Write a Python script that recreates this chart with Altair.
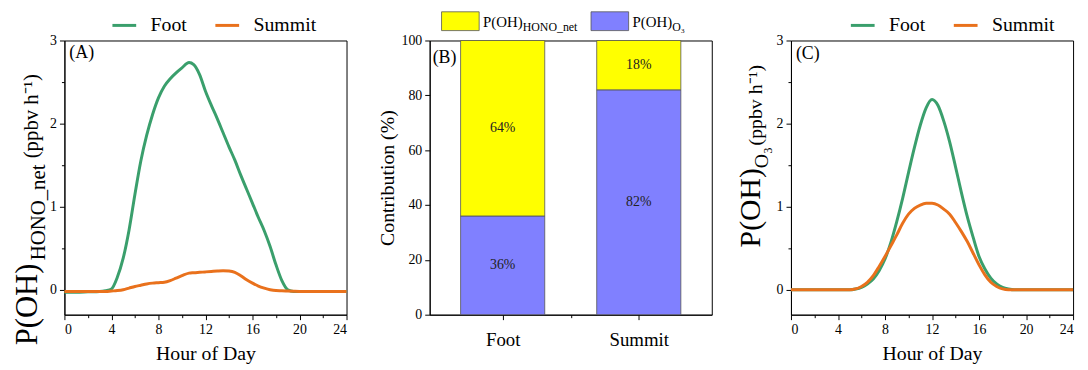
import altair as alt
import pandas as pd

FONT = "Liberation Serif"
GREEN = "#3a9f6c"
ORANGE = "#e9711c"
YELLOW = "#ffff00"
BLUE = "#8080ff"

sites = ["Foot", "Summit"]

# Panel A: P(OH)_HONO_net (ppbv h-1)
hours_A = [0, 1, 2, 3, 3.5, 4, 4.5, 5, 5.5, 6, 6.5, 7, 7.5, 8, 8.5, 9, 9.5, 10, 10.6,
           11, 11.5, 12, 12.5, 13, 13.5, 14, 14.5, 15, 15.5, 16, 16.5, 17, 17.5, 18,
           18.5, 19, 19.5, 20, 21, 22, 23, 24]
foot_A = [-0.03, -0.03, -0.025, -0.02, -0.01, 0.01, 0.15, 0.38, 0.72, 1.15, 1.55, 1.86,
          2.11, 2.31, 2.45, 2.54, 2.61, 2.67, 2.735, 2.71, 2.59, 2.39, 2.22, 2.06, 1.89,
          1.72, 1.56, 1.38, 1.21, 1.04, 0.87, 0.71, 0.52, 0.30, 0.11, 0.0, -0.02, -0.02,
          -0.02, -0.02, -0.02, -0.02]
summit_A = [-0.02, -0.02, -0.02, -0.02, -0.02, -0.015, -0.01, 0.0, 0.02, 0.04, 0.055,
            0.07, 0.08, 0.085, 0.09, 0.11, 0.14, 0.17, 0.2, 0.205, 0.21, 0.215, 0.22,
            0.225, 0.228, 0.225, 0.21, 0.17, 0.12, 0.08, 0.045, 0.02, 0.0, -0.01,
            -0.012, -0.015, -0.018, -0.02, -0.02, -0.02, -0.02, -0.02]

# Panel C: P(OH)_O3 (ppbv h-1)
hours_C = [0, 1, 2, 3, 4, 4.5, 5, 5.5, 6, 6.5, 7, 7.5, 8, 8.5, 9, 9.5, 10, 10.5, 11,
           11.5, 12, 12.5, 13, 13.5, 14, 14.5, 15, 15.5, 16, 16.5, 17, 17.5, 18, 18.5,
           19, 20, 21, 22, 23, 24]
foot_C = [0, 0, 0, 0, 0, 0, 0.0, 0.01, 0.03, 0.07, 0.13, 0.23, 0.37, 0.57, 0.82, 1.10,
          1.41, 1.71, 1.98, 2.19, 2.29, 2.22, 2.03, 1.78, 1.48, 1.17, 0.88, 0.63, 0.40,
          0.25, 0.14, 0.07, 0.03, 0.01, 0, 0, 0, 0, 0, 0]
summit_C = [0, 0, 0, 0, 0, 0, 0.0, 0.01, 0.04, 0.09, 0.17, 0.28, 0.40, 0.53, 0.66, 0.80,
            0.91, 0.98, 1.02, 1.04, 1.04, 1.02, 0.97, 0.91, 0.81, 0.70, 0.58, 0.44,
            0.30, 0.18, 0.09, 0.04, 0.01, 0.0, 0, 0, 0, 0, 0, 0]

# Panel B: contribution (%)
hono_pct = [64, 18]
ox_pct = [36, 82]
parts = ["HONO", "Ox"]

x_ticks = list(range(0, 25, 2))
y_ticks_line = [0, 0.5, 1, 1.5, 2, 2.5, 3]
y_ticks_bar = list(range(0, 101, 10))


def long_df(hours, foot, summit):
    rows = []
    for s, vals in zip(sites, [foot, summit]):
        for h, v in zip(hours, vals):
            rows.append({"hour": h, "value": v, "site": s})
    return pd.DataFrame(rows)


def one():
    return pd.DataFrame({"a": [0]})


def txt(text, x, y, size, angle=0, align="left", baseline="alphabetic"):
    return alt.Chart(one()).mark_text(
        text=text, font=FONT, fontSize=size, angle=angle, align=align,
        baseline=baseline, color="black"
    ).encode(x=alt.value(x), y=alt.value(y))


def x_hour_axis():
    return alt.X(
        "hour:Q",
        scale=alt.Scale(domain=[0, 24], nice=False),
        axis=alt.Axis(
            values=x_ticks,
            labelExpr="datum.value % 4 === 0 ? datum.label : ''",
            tickSize={"condition": {"test": "datum.value % 4 !== 0", "value": 3}, "value": 5},
            title="Hour of Day",
            titlePadding=7,
        ),
    )


def y_line_axis():
    return alt.Y(
        "value:Q",
        scale=alt.Scale(domain=[-0.3, 3], nice=False, zero=False),
        axis=alt.Axis(
            values=y_ticks_line,
            labelExpr="datum.value % 1 === 0 ? format(datum.value, 'd') : ''",
            tickSize={"condition": {"test": "datum.value % 1 !== 0", "value": 3}, "value": 5},
            title=None,
        ),
    )


def line_panel(df, legend_x):
    color = alt.Color(
        "site:N",
        scale=alt.Scale(domain=sites, range=[GREEN, ORANGE]),
        sort=sites,
        legend=alt.Legend(
            title=None, orient="none", legendX=legend_x, legendY=-29,
            direction="horizontal", symbolType="stroke", symbolStrokeWidth=3,
            symbolSize=576, labelFont=FONT, labelFontSize=20, labelOffset=13,
            columnPadding=22, padding=0, labelColor="black",
        ),
    )
    return alt.Chart(df).mark_line(strokeWidth=3, interpolate="monotone").encode(
        x=x_hour_axis(), y=y_line_axis(), color=color, order="site:N"
    )


W, H = 285, 277

dfA = long_df(hours_A, foot_A, summit_A)
panelA = alt.layer(
    line_panel(dfA, 47),
    txt("(A)", 5, 13, 18, baseline="middle"),
    txt("P(OH)", -28, 308, 31, angle=270),
    txt("HONO_net", -20, 222, 21, angle=270),
    txt("(ppbv h\u207b\u00b9)", -27, 119, 21, angle=270),
).properties(width=W, height=H)

dfC = long_df(hours_C, foot_C, summit_C)
panelC = alt.layer(
    line_panel(dfC, 59),
    txt("(C)", 5, 14, 18, baseline="middle"),
    txt("P(OH)", -31, 209, 30, angle=270),
    txt("O\u2083", -23, 129, 20, angle=270),
    txt("(ppbv h\u207b\u00b9)", -29, 106, 20, angle=270),
).properties(width=W, height=H)

# Panel B
rows = []
for i, s in enumerate(sites):
    rows.append({"site": s, "pos": i + 1, "part": "Ox", "lower": 0, "upper": ox_pct[i],
                 "pct": ox_pct[i]})
    rows.append({"site": s, "pos": i + 1, "part": "HONO", "lower": ox_pct[i],
                 "upper": ox_pct[i] + hono_pct[i], "pct": hono_pct[i]})
dfB = pd.DataFrame(rows)

lab_expr = "datum.value === 1 ? '%s' : datum.value === 2 ? '%s' : ''" % (sites[0], sites[1])
xB = alt.X(
    "pos:Q",
    scale=alt.Scale(domain=[0.5, 2.5], nice=False),
    axis=alt.Axis(
        values=[1, 1.5, 2], labelExpr=lab_expr,
        tickSize={"condition": {"test": "datum.value === 1.5", "value": 3}, "value": 5},
        labelFontSize=19, labelPadding=11, title=None,
    ),
)
yB = alt.Y(
    "lower:Q",
    scale=alt.Scale(domain=[0, 100], nice=False),
    axis=alt.Axis(
        values=y_ticks_bar,
        labelExpr="datum.value % 20 === 0 ? datum.label : ''",
        tickSize={"condition": {"test": "datum.value % 20 !== 0", "value": 3}, "value": 5},
        title="Contribution (%)", titlePadding=4,
    ),
)
bars = alt.Chart(dfB).mark_bar(size=85, stroke="#555555", strokeWidth=0.8).encode(
    x=xB, y=yB, y2="upper:Q",
    color=alt.Color("part:N", scale=alt.Scale(domain=parts, range=[YELLOW, BLUE]), legend=None),
)
pct_text = alt.Chart(dfB).transform_calculate(
    mid="(datum.lower + datum.upper) / 2", label="datum.pct + '%'"
).mark_text(font=FONT, fontSize=14, color="#222222").encode(
    x="pos:Q", y="mid:Q", text="label:N"
)

panelB = alt.layer(
    bars,
    pct_text,
    txt("(B)", 3, 18, 18, baseline="middle"),
    alt.Chart(one()).mark_rect(fill=YELLOW, stroke="#555555", strokeWidth=0.8).encode(
        x=alt.value(12), x2=alt.value(50), y=alt.value(-29), y2=alt.value(-10)),
    txt("P(OH)", 54, -14, 15),
    txt("HONO_net", 94, -10, 12),
    alt.Chart(one()).mark_rect(fill=BLUE, stroke="#555555", strokeWidth=0.8).encode(
        x=alt.value(163), x2=alt.value(201), y=alt.value(-29), y2=alt.value(-10)),
    txt("P(OH)", 205, -14, 15),
    txt("O\u2083", 245, -10, 12),
).properties(width=W, height=H)

chart = alt.hconcat(
    panelA,
    alt.hconcat(panelB, panelC, spacing=80, bounds="flush").resolve_scale(
        color="independent", x="independent", y="independent"),
    spacing=84,
    bounds="flush",
).resolve_scale(
    color="independent", x="independent", y="independent"
).properties(
    padding={"left": 3, "top": 1, "right": 0, "bottom": 0}
).configure_view(
    stroke="black", strokeWidth=1
).configure_axis(
    grid=False, domainColor="black", tickColor="black", labelColor="black",
    titleColor="black", labelFont=FONT, titleFont=FONT, labelFontSize=14,
    titleFontSize=20, titleFontWeight="normal", labelPadding=3, domainWidth=1,
    tickWidth=1,
)

chart.save("out.html", embed_options={"renderer": "svg", "actions": False})
